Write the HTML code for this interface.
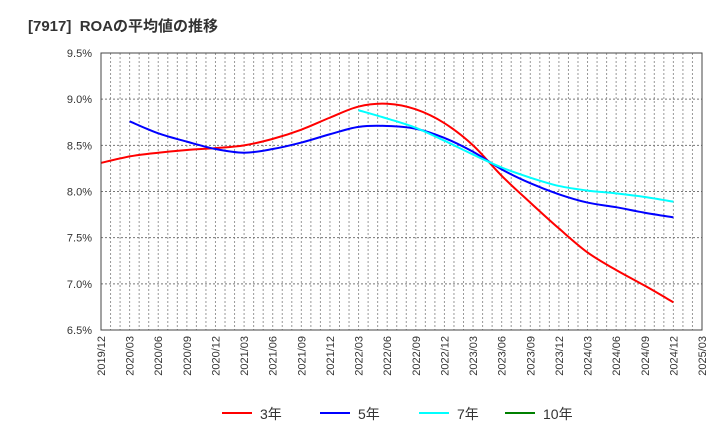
<!DOCTYPE html>
<html><head><meta charset="utf-8"><style>
body{margin:0;background:#fff}
svg{font-family:"Liberation Sans","Noto Sans CJK JP",sans-serif}
</style></head><body>
<svg id="c" width="720" height="440">
<text x="28" y="31" font-size="15" font-weight="bold" fill="#333">[7917]&#160; ROAの平均値の推移</text>
<g id="grid"></g><g id="series"></g><g id="axes"></g>
<g id="legend"></g>
</svg>
<script>
const categories=["2019/12","2020/03","2020/06","2020/09","2020/12","2021/03","2021/06","2021/09","2021/12","2022/03","2022/06","2022/09","2022/12","2023/03","2023/06","2023/09","2023/12","2024/03","2024/06","2024/09","2024/12","2025/03"];
const yTicks=[6.5,7.0,7.5,8.0,8.5,9.0,9.5];
const s3=[8.31,8.38,8.42,8.45,8.47,8.50,8.57,8.67,8.80,8.92,8.95,8.89,8.74,8.50,8.17,7.88,7.60,7.34,7.15,6.98,6.80];
const s5=[null,8.76,8.63,8.54,8.46,8.42,8.46,8.53,8.62,8.70,8.71,8.68,8.58,8.43,8.24,8.09,7.97,7.88,7.83,7.77,7.72];
const s7=[null,null,null,null,null,null,null,null,null,8.88,8.79,8.69,8.55,8.40,8.26,8.15,8.06,8.01,7.98,7.94,7.89];
const s10=[];
const L=101,R=702,T=53,B=330,NS="http://www.w3.org/2000/svg";
const x=i=>L+(R-L)*i/(categories.length-1);
const y=v=>B-(v-6.5)/3*(B-T);
function el(t,a,p){const e=document.createElementNS(NS,t);for(const k in a)e.setAttribute(k,a[k]);p.appendChild(e);return e;}
const g=document.getElementById('grid'),ax=document.getElementById('axes'),se=document.getElementById('series'),lg=document.getElementById('legend');
for(let m=1;m<63;m++){const xx=L+(R-L)*m/63;const ln=el('line',{x1:xx,x2:xx,y1:T,y2:B,stroke:'#999','stroke-dasharray':'2,2','stroke-width':1},g);

}
yTicks.forEach(v=>{const ln=el('line',{x1:L,x2:R,y1:y(v),y2:y(v),stroke:'#777','stroke-dasharray':'2,2'},g);


const t=el('text',{x:92,y:y(v)+4,'font-size':11,'text-anchor':'end',fill:'#333'},ax);t.textContent=v.toFixed(1)+'%';

});
const fr=el('rect',{x:L,y:T,width:R-L,height:B-T,fill:'none',stroke:'#444'},ax);


categories.forEach((c,i)=>{const t=el('text',{transform:`translate(${x(i)+4},336) rotate(-90)`,'font-size':11,'text-anchor':'end',fill:'#333'},ax);t.textContent=c;

});
function path(d){const p=[];d.forEach((v,i)=>{if(v!=null)p.push([x(i),y(v)])});if(p.length<2)return'';
let s=`M${p[0][0]},${p[0][1]}`;for(let i=0;i<p.length-1;i++){const p0=p[Math.max(0,i-1)],p1=p[i],p2=p[i+1],p3=p[Math.min(p.length-1,i+2)];
s+=` C${p1[0]+(p2[0]-p0[0])/6},${p1[1]+(p2[1]-p0[1])/6} ${p2[0]-(p3[0]-p1[0])/6},${p2[1]-(p3[1]-p1[1])/6} ${p2[0]},${p2[1]}`;}return s;}
const ser=[[s3,'#ff0000','3年','series-3y'],[s5,'#0000ff','5年','series-5y'],[s7,'#00ffff','7年','series-7y'],[s10,'#008000','10年','series-10y']];
ser.forEach(([d,c,n,nm])=>{const dd=path(d);if(dd){const p=el('path',{d:dd,fill:'none',stroke:c,'stroke-width':2},se);

}});
const lx=[222,320,419,505];
ser.forEach(([d,c,n,nm],i)=>{const l=el('line',{x1:lx[i],x2:lx[i]+30,y1:413,y2:413,stroke:c,'stroke-width':2},lg);


const t=el('text',{x:lx[i]+38,y:419,'font-size':14,fill:'#333'},lg);t.textContent=n;

});
</script>
</body></html>
